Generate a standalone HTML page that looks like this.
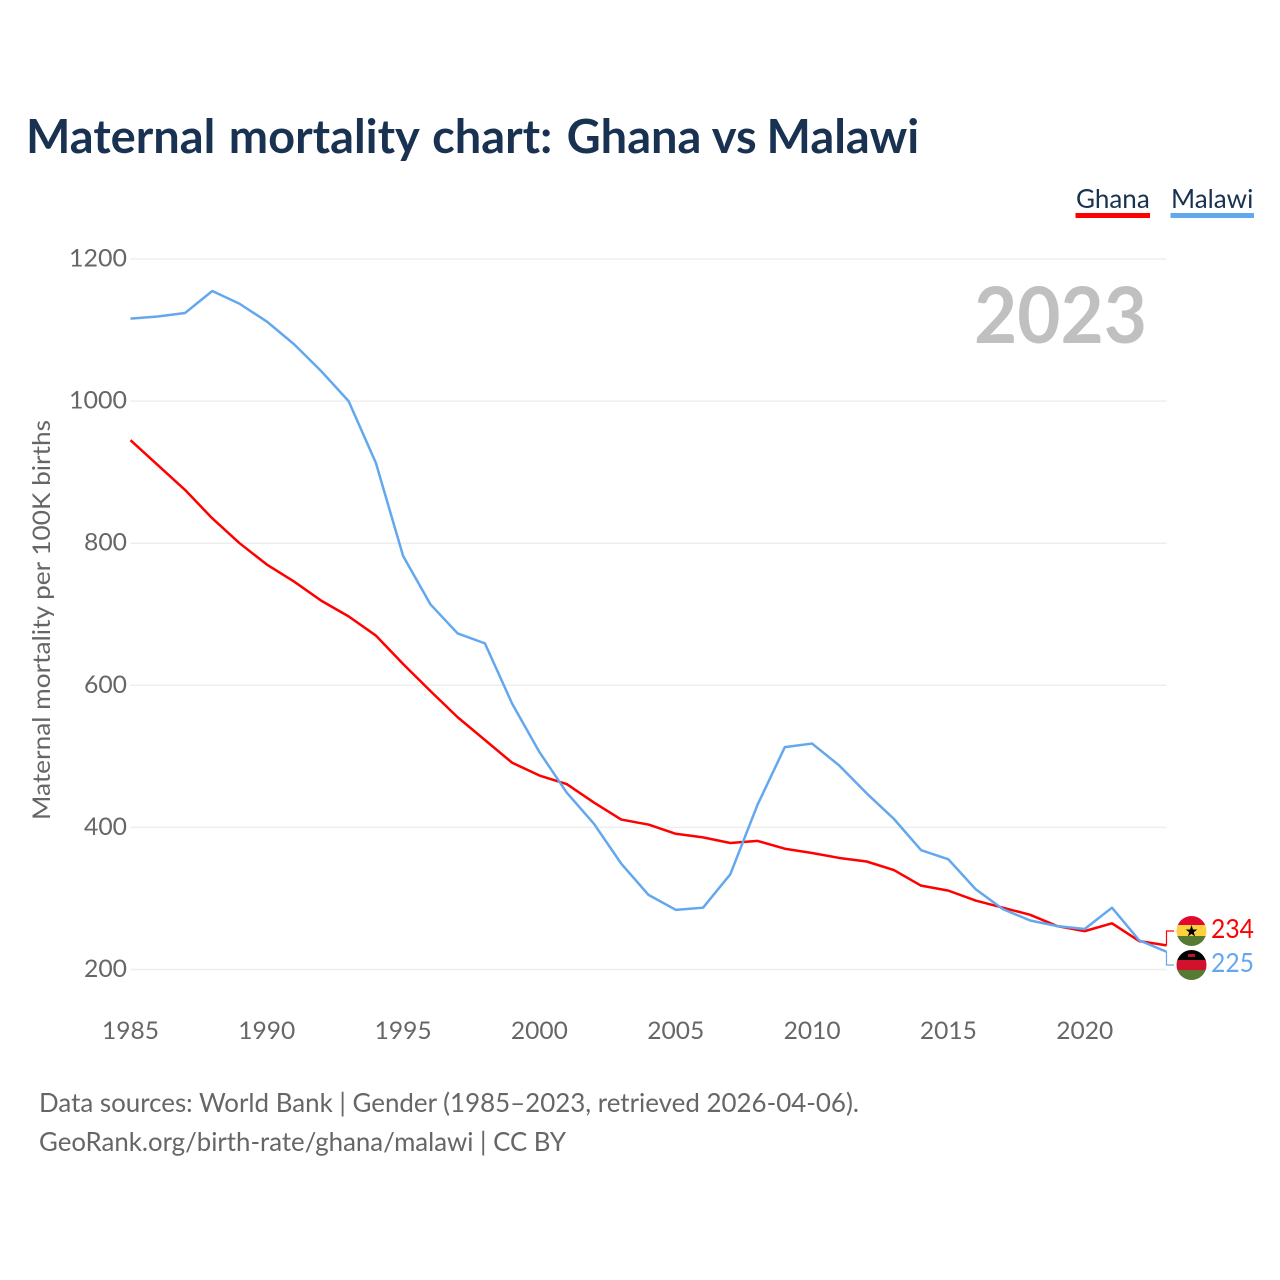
<!DOCTYPE html>
<html lang="en">
<head>
<meta charset="utf-8">
<title>Maternal mortality chart: Ghana vs Malawi</title>
<style>
html,body{margin:0;padding:0;background:#fff;}
svg{display:block;}
text{font-family:"Lato","Carlito","Liberation Sans",sans-serif;}
</style>
</head>
<body>
<svg id="chart" xmlns="http://www.w3.org/2000/svg" width="1280" height="1280" viewBox="0 0 1280 1280">
  <rect x="0" y="0" width="1280" height="1280" fill="#ffffff"/>
  <text x="26" y="153" font-size="47" font-weight="700" fill="#193251">Maternal <tspan dx="2">mortality</tspan> <tspan dx="2">chart:</tspan> <tspan dx="3">Ghana</tspan> vs <tspan dx="-1.5">Malawi</tspan></text>
  <g id="grid"></g>
  <g id="yticks"></g>
  <g id="xticks"></g>
  <text transform="translate(50,820) rotate(-90)" font-size="24" fill="#666666" textLength="400" lengthAdjust="spacingAndGlyphs">Maternal mortality per 100K births</text>
  <text x="974" y="343" font-size="78" font-weight="700" fill="#c0c0c0" textLength="173" lengthAdjust="spacingAndGlyphs">2023</text>
  <g id="series"></g>

  <g>
    <text x="1076" y="208" font-size="26" fill="#193251">Ghana</text>
    <rect x="1075.5" y="213" width="74.5" height="5" fill="#ff0000"/>
  </g>
  <g>
    <text x="1171" y="208" font-size="26" fill="#193251">Malawi</text>
    <rect x="1170.5" y="213" width="83.5" height="5" fill="#63a8ee"/>
  </g>

  <defs>
    <clipPath id="clip-ghana"><circle cx="1191.5" cy="931" r="15"/></clipPath>
    <clipPath id="clip-malawi"><circle cx="1191.5" cy="965" r="15"/></clipPath>
  </defs>
  <g clip-path="url(#clip-ghana)">
    <rect x="1176" y="916" width="31" height="10" fill="#e2092f"/>
    <rect x="1176" y="925" width="31" height="12" fill="#fcd13f"/>
    <rect x="1176" y="936" width="31" height="11" fill="#567a32"/>
    <polygon points="1191.5,925 1193,929.5 1197.3,929.5 1193.8,932.2 1195.1,936.5 1191.5,933.9 1187.9,936.5 1189.2,932.2 1185.7,929.5 1190,929.5" fill="#000000"/>
  </g>
  <g clip-path="url(#clip-malawi)">
    <rect x="1176" y="950" width="31" height="11" fill="#000000"/>
    <rect x="1176" y="960" width="31" height="11" fill="#d2112f"/>
    <rect x="1176" y="970" width="31" height="11" fill="#567a32"/>
    <rect x="1188" y="954" width="7" height="3" fill="#c8102e"/>
  </g>
  <text x="1211" y="938" font-size="26" fill="#ff0000" textLength="43" lengthAdjust="spacingAndGlyphs">234</text>
  <text x="1211" y="972" font-size="26" fill="#63a8ee" textLength="43" lengthAdjust="spacingAndGlyphs">225</text>

  <text x="39" y="1112" font-size="26" fill="#666666" textLength="820" lengthAdjust="spacingAndGlyphs">Data sources: World Bank | Gender (1985–2023, retrieved 2026-04-06).</text>
  <text x="39" y="1151" font-size="26" fill="#666666" textLength="527" lengthAdjust="spacingAndGlyphs">GeoRank.org/birth-rate/ghana/malawi | CC BY</text>
</svg>
<script>
const years = [1985,1986,1987,1988,1989,1990,1991,1992,1993,1994,1995,1996,1997,1998,1999,2000,2001,2002,2003,2004,2005,2006,2007,2008,2009,2010,2011,2012,2013,2014,2015,2016,2017,2018,2019,2020,2021,2022,2023];
const ghanaValues = [945,910,875,835,800,770,746,719,697,670,630,592,555,523,491,473,461,435,411,404,391,386,378,381,370,364,357,352,340,318,311,297,287,277,261,254,265,240,234];
const malawiValues = [1116,1119,1124,1155,1137,1112,1080,1042,1000,913,782,714,673,659,574,506,449,405,349,305,284,287,334,432,513,518,487,448,412,368,355,313,285,269,261,257,287,241,225];
const yTickValues = [200,400,600,800,1000,1200];
const xTickValues = [1985,1990,1995,2000,2005,2010,2015,2020];

const NS = 'http://www.w3.org/2000/svg';
const PLOT_LEFT = 130.5, PLOT_RIGHT = 1166.5, PLOT_TOP = 259, PLOT_BOTTOM = 969.5;
function xScale(year) {
  return PLOT_LEFT + (year - years[0]) / (years[years.length - 1] - years[0]) * (PLOT_RIGHT - PLOT_LEFT);
}
function yScale(value) {
  return PLOT_BOTTOM - (value - 200) / 1000 * (PLOT_BOTTOM - PLOT_TOP);
}
function make(tag, attrs, parent) {
  const el = document.createElementNS(NS, tag);
  for (const k in attrs) el.setAttribute(k, attrs[k]);
  parent.appendChild(el);
  return el;
}
const grid = document.getElementById('grid');
const yticks = document.getElementById('yticks');
const xticks = document.getElementById('xticks');
const series = document.getElementById('series');

yTickValues.forEach(function (v) {
  const line = make('line', {x1: PLOT_LEFT, x2: PLOT_RIGHT, y1: yScale(v), y2: yScale(v), stroke: '#eeeeee', 'stroke-width': 1.5}, grid);
  
  
  const label = make('text', {x: 127, y: yScale(v) + 7.5, 'text-anchor': 'end', 'font-size': 24, fill: '#666666', textLength: v >= 1000 ? 58 : 43, lengthAdjust: 'spacingAndGlyphs'}, yticks);
  
  
  label.textContent = String(v);
});
xTickValues.forEach(function (y) {
  const label = make('text', {x: xScale(y), y: 1039, 'text-anchor': 'middle', 'font-size': 24, fill: '#666666', textLength: 57, lengthAdjust: 'spacingAndGlyphs'}, xticks);
  
  
  label.textContent = String(y);
});
function pathFor(values) {
  return values.map(function (v, i) {
    return (i ? 'L' : 'M') + xScale(years[i]).toFixed(2) + ' ' + yScale(v).toFixed(2);
  }).join(' ');
}
const ghanaLine = make('path', {d: pathFor(ghanaValues), fill: 'none', stroke: '#ff0000', 'stroke-width': 2.5, 'stroke-linejoin': 'round'}, series);


const malawiLine = make('path', {d: pathFor(malawiValues), fill: 'none', stroke: '#63a8ee', 'stroke-width': 2.5, 'stroke-linejoin': 'round'}, series);



const lastG = ghanaValues[ghanaValues.length - 1];
const lastM = malawiValues[malawiValues.length - 1];
const ghanaConnector = make('path', {d: 'M' + PLOT_RIGHT + ' ' + yScale(lastG) + ' V931 H1174', fill: 'none', stroke: '#ff0000', 'stroke-width': 1.2}, series);


const malawiConnector = make('path', {d: 'M' + PLOT_RIGHT + ' ' + yScale(lastM) + ' V965 H1174', fill: 'none', stroke: '#63a8ee', 'stroke-width': 1.2}, series);


</script>
</body>
</html>
